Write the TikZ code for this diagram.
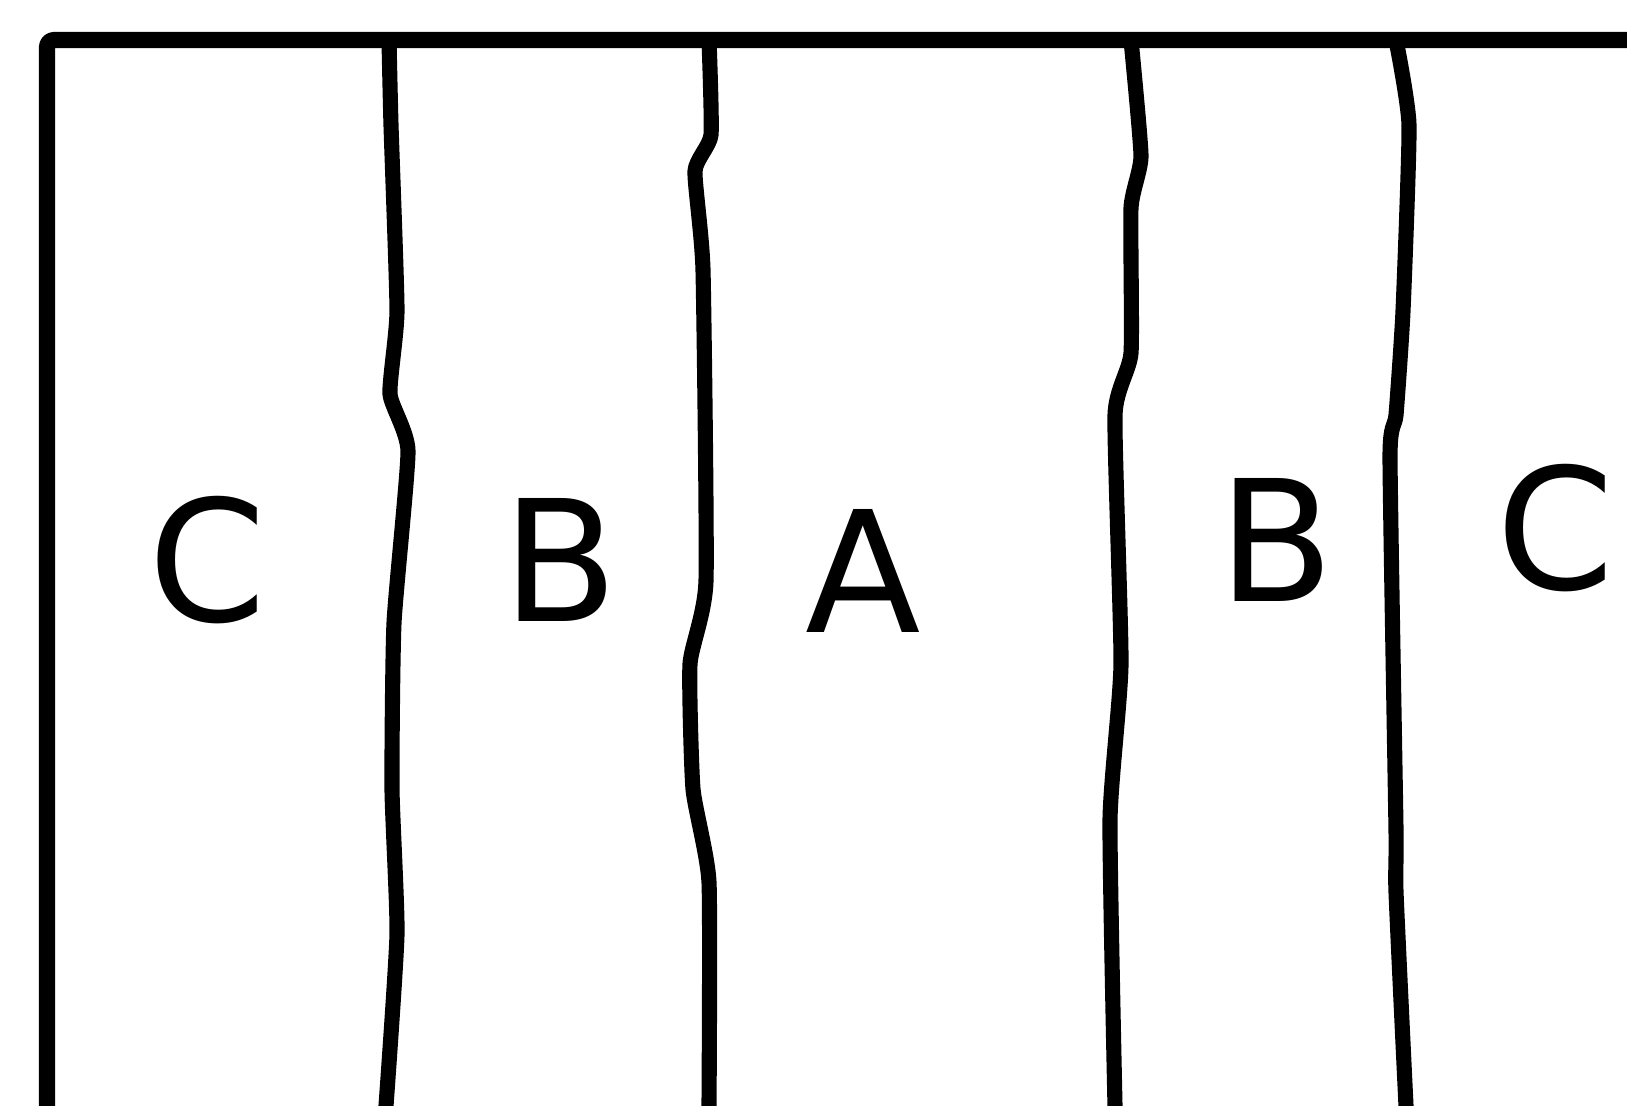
\documentclass[tikz,border=0pt]{standalone}
\usepackage{fontspec}
\setmainfont{DejaVu Sans}
\usepackage{xcolor}
\usepackage{tikz}
\usetikzlibrary{positioning, calc}
\definecolor{zoneink}{RGB}{0,0,0}
\tikzset{
  frame/.style     = {draw=zoneink, line width=4.6pt, line join=round,
                      line cap=round, rounded corners=2pt},
  divider/.style   = {draw=zoneink, line width=4.3pt, line join=round,
                      line cap=round},
  zonelabel/.style = {text=zoneink, font=\fontsize{48}{56}\selectfont,
                      inner sep=0pt},
}

\begin{document}
\begin{tikzpicture}[x=0.01cm, y=-0.01cm]
  \useasboundingbox (0,0) rectangle (1627,1106);
  \clip (0,0) rectangle (1627,1106);
  % outer frame, running off the right and bottom edges
  \draw[frame] (47,1114) -- (47,40) -- (1660,40);
  \draw[frame] (47,1114) -- (1660,1114);
  % wavy dividers between the zones
  \draw[divider] plot[smooth, tension=0.3] coordinates
    {(389,40) (391,125) (397,311) (390,394) (408,451) (394,623) (392,789) (397,934) (386,1106)};
  \draw[divider] plot[smooth, tension=0.3] coordinates
    {(709,40) (711,135) (695,171) (703,270) (706,581) (690,664) (693,789) (709,882) (709,1106)};
  \draw[divider] plot[smooth, tension=0.3] coordinates
    {(1131,40) (1141,156) (1131,208) (1131,353) (1115,415) (1121,664) (1110,820) (1115,1106)};
  \draw[divider] plot[smooth, tension=0.3] coordinates
    {(1396,40) (1409,125) (1403,311) (1396,415) (1390,457) (1396,830) (1396,892) (1406,1106)};
  % zone letters
  \node[zonelabel] (c1) at (207,560) {C};
  \node[zonelabel] (b1) at (560,560) {B};
  \node[zonelabel] (a)  at (863,571) {A};
  \node[zonelabel] (b2) at (1276,540) {B};
  \node[zonelabel, anchor=west] (c2) at (1496,528) {C};
\end{tikzpicture}
\end{document}
